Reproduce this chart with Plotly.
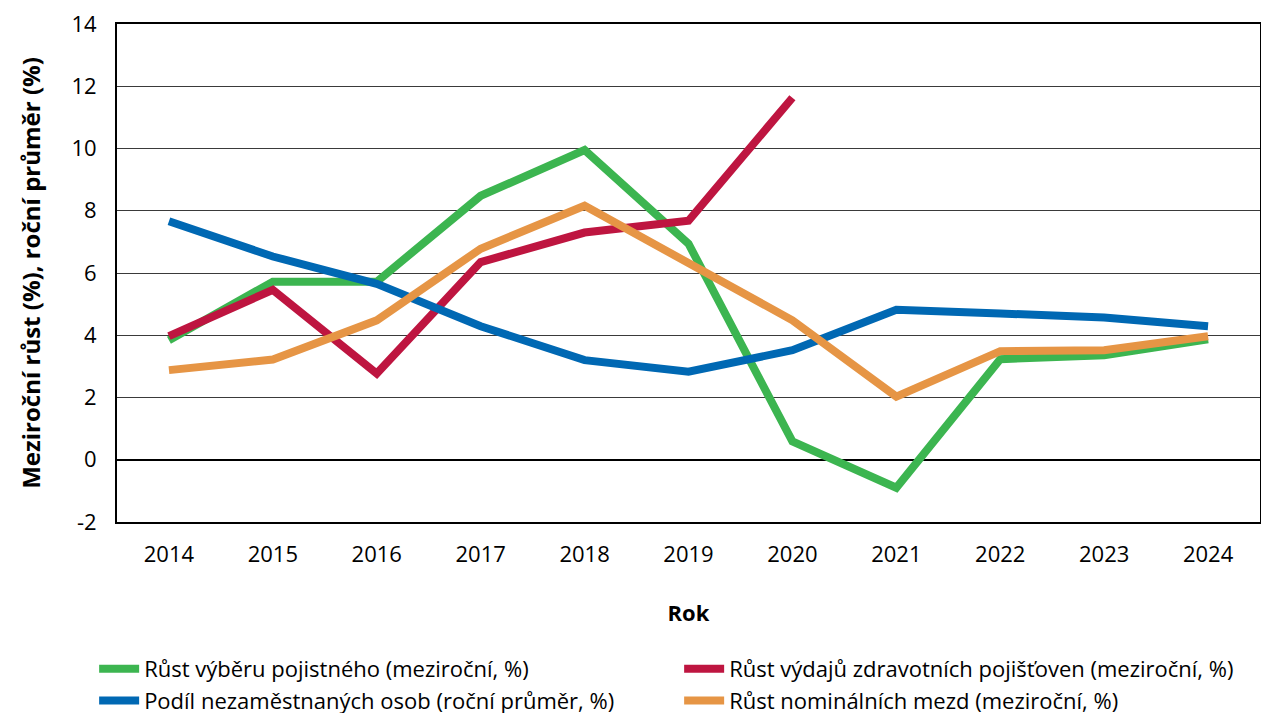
import plotly.graph_objects as go

# data
roky = ["2014", "2015", "2016", "2017", "2018", "2019", "2020", "2021", "2022", "2023", "2024"]
pojistne = [3.84, 5.72, 5.72, 8.48, 9.95, 6.94, 0.59, -0.9, 3.23, 3.36, 3.87]
vydaje = [3.97, 5.46, 2.77, 6.35, 7.3, 7.68, 11.63]
nezamestnanost = [7.66, 6.53, 5.65, 4.29, 3.2, 2.83, 3.52, 4.82, 4.7, 4.57, 4.29]
mzdy = [2.88, 3.22, 4.48, 6.78, 8.16, 6.35, 4.48, 2.03, 3.49, 3.52, 3.97]

y_ticks = [-2, 0, 2, 4, 6, 8, 10, 12, 14]
y_labels = ["-2", "0", "2", "4", "6", "8", "10", "12", "14"]

FONT = "Open Sans"

fig = go.Figure()
fig.add_trace(go.Scatter(x=roky, y=pojistne, mode="lines",
                         name="Růst výběru pojistného (meziroční, %)",
                         line=dict(color="#3CB550", width=8)))
fig.add_trace(go.Scatter(x=roky[:len(vydaje)], y=vydaje, mode="lines",
                         name="Růst výdajů zdravotních pojišťoven (meziroční, %)",
                         line=dict(color="#BE1540", width=8)))
fig.add_trace(go.Scatter(x=roky, y=nezamestnanost, mode="lines",
                         name="Podíl nezaměstnaných osob (roční průměr, %)",
                         line=dict(color="#0068B3", width=8)))
fig.add_trace(go.Scatter(x=roky, y=mzdy, mode="lines",
                         name="Růst nominálních mezd (meziroční, %)",
                         line=dict(color="#E69545", width=8)))

# the page body adds an 8px margin, so the figure starts 8px in
fig.update_layout(
    width=1261, height=725,
    margin=dict(l=109, r=9, t=16, b=211, autoexpand=False),
    plot_bgcolor="white", paper_bgcolor="white",
    font=dict(family=FONT, size=22, color="black"),
    legend=dict(orientation="h", x=-0.02, y=-0.253, xanchor="left", yanchor="top",
                entrywidth=530, entrywidthmode="pixels",
                font=dict(size=22), traceorder="normal", itemwidth=40,
                tracegroupgap=0),
)
fig.update_xaxes(
    type="category", range=[-0.5, 10.5], showgrid=False, ticks="",
    ticklabelstandoff=12, automargin=False,
    showline=True, linecolor="black", linewidth=2, mirror=True,
    title=dict(text="<b>Rok</b>", font=dict(size=22), standoff=38),
)
fig.update_yaxes(
    range=[-2, 14], tickmode="array", tickvals=y_ticks, ticktext=y_labels,
    showgrid=True, gridcolor="#3a3a3a", gridwidth=1,
    zeroline=True, zerolinecolor="black", zerolinewidth=1.5,
    showline=True, linecolor="black", linewidth=2, mirror=True,
    ticks="", ticklabelstandoff=14, automargin=False, ticklabeloverflow="allow",
    title=dict(text="<b>Meziroční růst (%), roční průměr (%)</b>", font=dict(size=24), standoff=24),
)

fig.write_html("out.html")
